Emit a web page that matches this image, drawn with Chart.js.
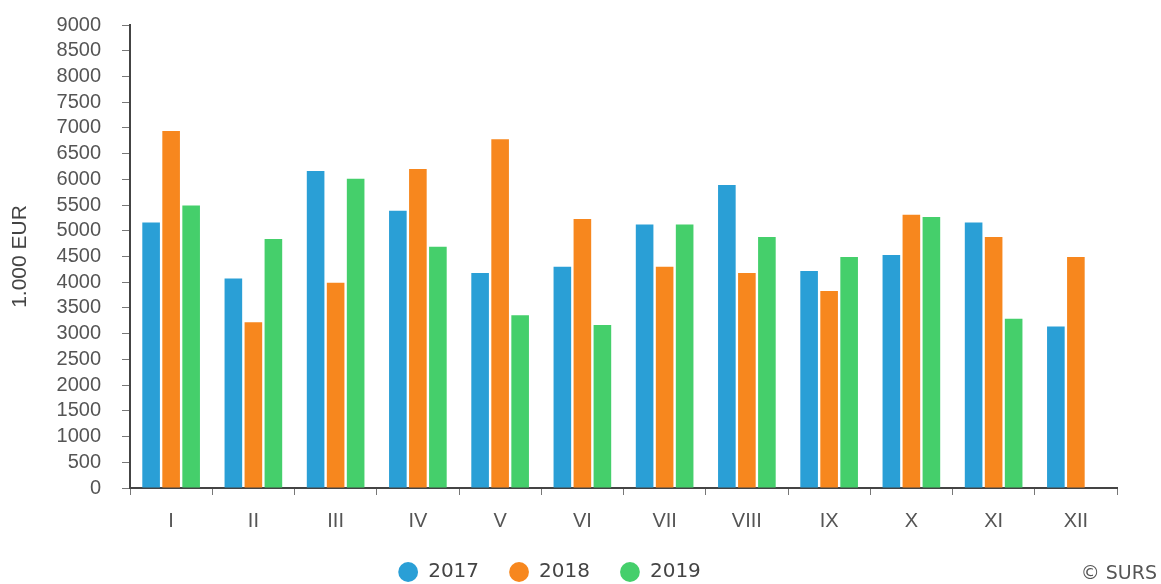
<!DOCTYPE html>
<html>
<head>
<meta charset="utf-8">
<script src="https://cdn.jsdelivr.net/npm/chart.js@4"></script>
<style>
  html, body { margin: 0; padding: 0; background: #fff; }
  #wrap { position: relative; width: 1161px; height: 584px; }
  #copy {
    position: absolute; right: 4px; bottom: 1px;
    font-family: "DejaVu Sans", sans-serif; font-size: 19px; color: #555;
  }
</style>
</head>
<body>
<div id="wrap">
  <canvas id="chart" width="1161" height="584"></canvas>
  <div id="copy">© SURS</div>
</div>
<script>
// meseci in vrednosti (1.000 EUR)
const months = ["I", "II", "III", "IV", "V", "VI", "VII", "VIII", "IX", "X", "XI", "XII"];
const y2017 = [5160, 4070, 6160, 5390, 4180, 4300, 5120, 5890, 4220, 4530, 5160, 3140];
const y2018 = [6940, 3220, 3990, 6200, 6780, 5230, 4300, 4180, 3830, 5310, 4880, 4490];
const y2019 = [5490, 4840, 6010, 4690, 3360, 3170, 5120, 4880, 4490, 5270, 3290, null];
const seriesNames = ["2017", "2018", "2019"];
const seriesColors = ["#2A9FD6", "#F7871E", "#45CF6B"];

const FONT = "'Liberation Sans', Arial, sans-serif";

// legenda: nižja višina (bližje dnu) in malo zamaknjena levo
const legendTweak = {
  id: "legendTweak",
  beforeInit(chart) {
    const fit = chart.legend.fit;
    chart.legend.fit = function () {
      fit.call(this);
      this.height = 52;
    };
  },
  afterLayout(chart) {
    chart.legend.left -= 9;
    chart.legend.right -= 9;
  }
};

const ctx = document.getElementById("chart").getContext("2d");

new Chart(ctx, {
  type: "bar",
  data: {
    labels: months,
    datasets: [y2017, y2018, y2019].map((d, i) => ({
      label: seriesNames[i],
      data: d,
      backgroundColor: seriesColors[i],
      borderWidth: 0,
      categoryPercentage: 0.73,
      barPercentage: 0.88
    }))
  },
  options: {
    responsive: false,
    animation: false,
    layout: { padding: { left: 0, right: 44, top: 25, bottom: 0 } },
    scales: {
      x: {
        grid: {
          display: true,
          drawOnChartArea: false,
          drawTicks: true,
          tickLength: 7,
          offset: true,
          color: "#777"
        },
        border: { display: true, color: "#444", width: 2 },
        ticks: {
          color: "#555",
          font: { family: FONT, size: 20 },
          padding: 14
        },
        afterFit: (s) => { s.height = 44; }
      },
      y: {
        min: 0,
        max: 9000,
        grid: {
          display: true,
          drawOnChartArea: false,
          drawTicks: true,
          tickLength: 8,
          color: "#777"
        },
        border: { display: true, color: "#444", width: 2 },
        ticks: {
          stepSize: 500,
          autoSkip: false,
          color: "#555",
          font: { family: FONT, size: 20, lineHeight: 1 },
          padding: 21,
          callback: (v) => String(v)
        },
        title: {
          display: true,
          text: "1.000 EUR",
          color: "#444",
          font: { family: FONT, size: 21 },
          padding: { top: 8, bottom: 0 }
        },
        afterFit: (s) => {
          s.width = 130;
          s.paddingTop = 0;
          s.paddingBottom = 0;
        }
      }
    },
    plugins: {
      legend: {
        position: "bottom",
        labels: {
          usePointStyle: true,
          pointStyle: "circle",
          boxWidth: 20,
          boxHeight: 14,
          padding: 30,
          color: "#444",
          font: { family: "DejaVu Sans", size: 20 }
        }
      },
      tooltip: { enabled: false }
    }
  },
  plugins: [legendTweak]
});
</script>
</body>
</html>
